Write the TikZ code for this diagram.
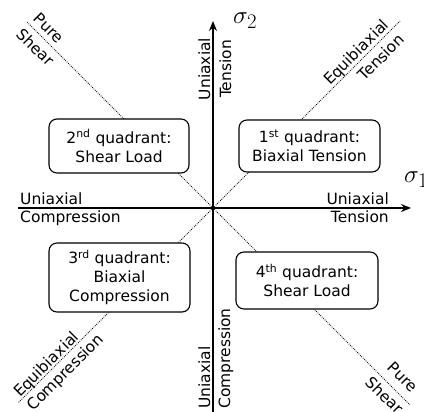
\documentclass[tikz,border=0pt]{standalone}
\usepackage{fontspec}
\setmainfont{DejaVu Sans}
\usetikzlibrary{arrows.meta}
\newcommand\lblfont{\fontsize{15.5}{19}\selectfont}
\begin{document}
\begin{tikzpicture}[x=1pt,y=1pt,
  every node/.style={font=\lblfont, inner sep=0pt},
  axis/.style={line width=1.6pt, -{Stealth[length=10pt,width=8pt]}},
  diag/.style={line width=0.8pt, dash pattern=on 0.8pt off 1.2pt},
  quad/.style={draw, line width=1.1pt, rounded corners=8pt, fill=white, align=center},
  sig/.style={font=\Huge, anchor=west}]
\useasboundingbox (0,0) rectangle (424,412);
% coordinates
\coordinate (O) at (213,204);
\coordinate (xL) at (18,204);
\coordinate (xR) at (411,204);
\coordinate (yB) at (213,0);
\coordinate (yT) at (213,391);
\coordinate (dUL) at (27,390);
\coordinate (dUR) at (400,391);
\coordinate (dLL) at (18,9);
\coordinate (dLR) at (410,7);
% diagonals
\draw[diag] (O) -- (dUL);
\draw[diag] (O) -- (dUR);
\draw[diag] (O) -- (dLL);
\draw[diag] (O) -- (dLR);
% axes
\draw[axis] (xL) -- (xR);
\draw[axis] (yB) -- (yT);
% quadrant boxes
\node[quad, minimum width=140, minimum height=54] (q2) at (119,266) {2\textsuperscript{nd} quadrant:\\Shear Load};
\node[quad, minimum width=141, minimum height=52] (q1) at (309.5,266) {1\textsuperscript{st} quadrant:\\Biaxial Tension};
\node[quad, minimum width=141, minimum height=69] (q3) at (119.5,134.5) {3\textsuperscript{rd} quadrant:\\Biaxial\\Compression};
\node[quad, minimum width=142, minimum height=57] (q4) at (307,131.5) {4\textsuperscript{th} quadrant:\\Shear Load};
% axis labels
\node[anchor=base west] (hlU) at (20,207) {Uniaxial};
\node[anchor=base west] (hlC) at (20,189) {Compression};
\node[anchor=base east] (hrU) at (389,207) {Uniaxial};
\node[anchor=base east] (hrT) at (389,189) {Tension};
\node[anchor=base, rotate=90] (vtU) at (210,343) {Uniaxial};
\node[anchor=base, rotate=90] (vtT) at (231,343) {Tension};
\node[anchor=base west, rotate=90] (vbU) at (210,3) {Uniaxial};
\node[anchor=base west, rotate=90] (vbC) at (230,3) {Compression};
% sigma labels
\node[sig] (s1) at (404,232) {$\sigma_1$};
\node[sig] (s2) at (233,391) {$\sigma_2$};
% diagonal labels
\node[rotate=-45] (ulP) at (49,384) {Pure};
\node[rotate=-45] (ulS) at (36,365) {Shear};
\node[rotate=45] (urE) at (357,359) {Equibiaxial};
\node[rotate=45] (urT) at (381,355) {Tension};
\node[rotate=45] (llE) at (47,47) {Equibiaxial};
\node[rotate=45] (llC) at (66,39) {Compression};
\node[rotate=-45] (lrP) at (403,35) {Pure};
\node[rotate=-45] (lrS) at (385,17) {Shear};
\end{tikzpicture}
\end{document}
